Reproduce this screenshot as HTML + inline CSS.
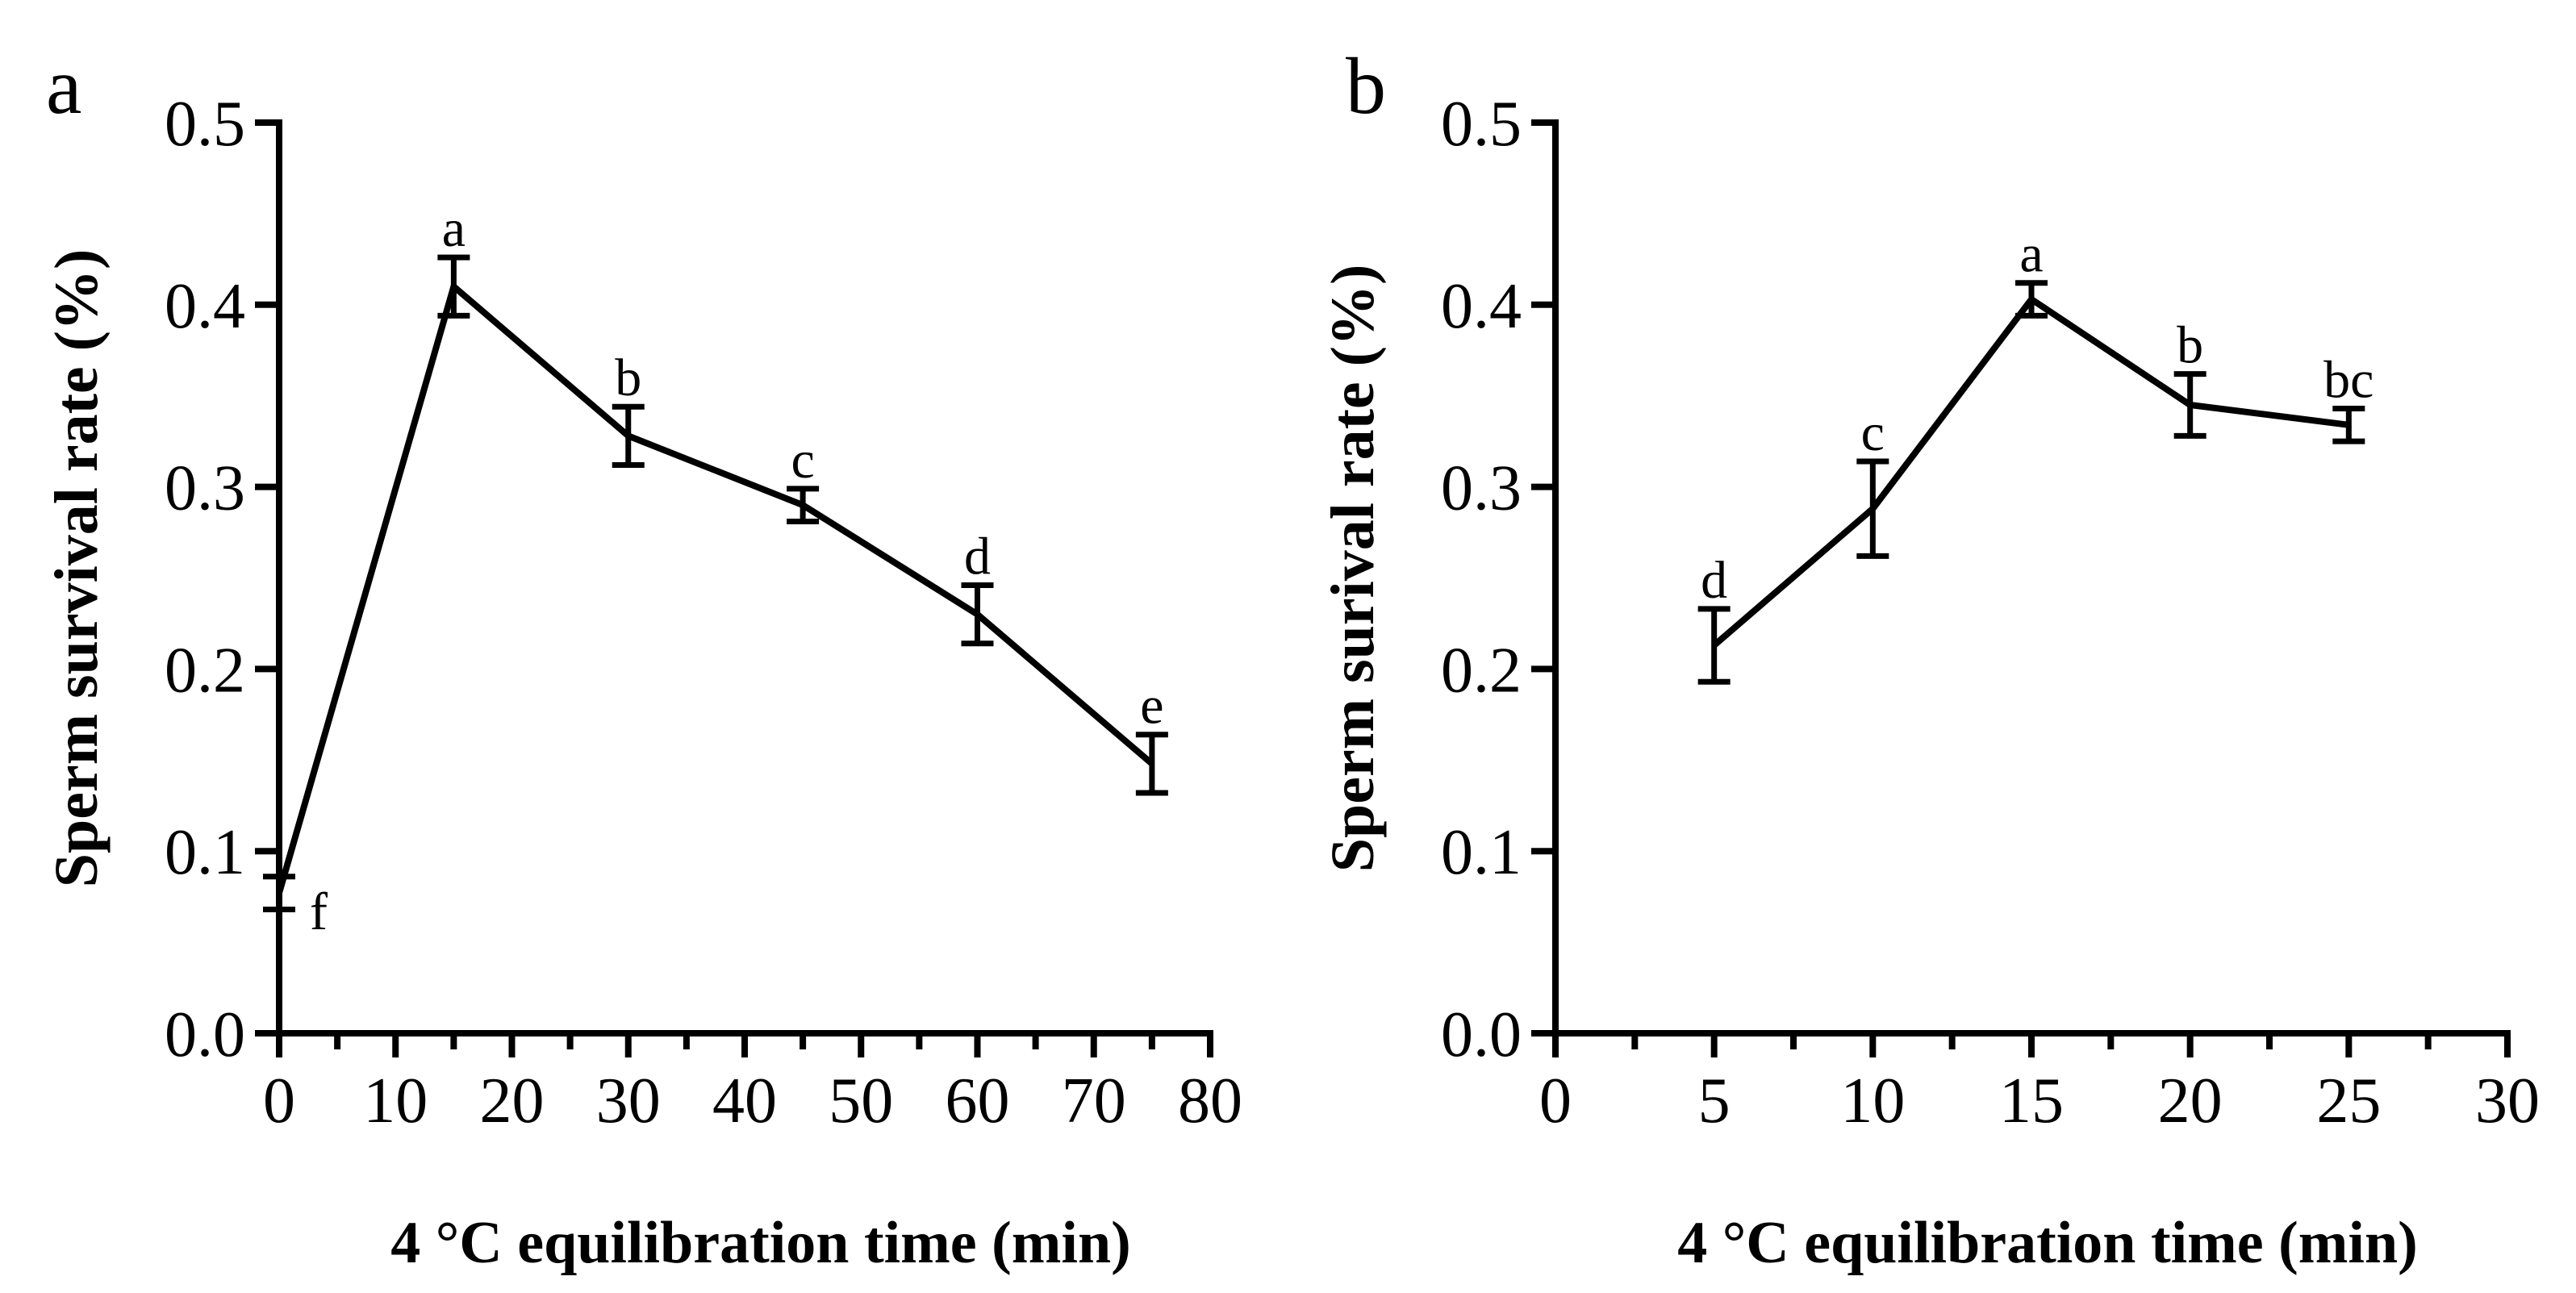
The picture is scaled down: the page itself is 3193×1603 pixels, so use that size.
<!DOCTYPE html>
<html><head><meta charset="utf-8"><style>
html,body{margin:0;padding:0;background:#fff}
svg{display:block}
text{font-family:"Liberation Serif",serif;fill:#000}
</style></head><body>
<svg id="c" width="3193" height="1603" viewBox="0 0 3193 1603" xmlns="http://www.w3.org/2000/svg"></svg>
<script>
const aTimes=[0,15,30,45,60,75];
const aMeans=[0.077,0.410,0.328,0.290,0.230,0.148];
const aErrs=[0.009,0.016,0.016,0.009,0.016,0.016];
const aLetters=["f","a","b","c","d","e"];
const aXTicks=[0,10,20,30,40,50,60,70,80];
const bTimes=[5,10,15,20,25];
const bMeans=[0.213,0.288,0.403,0.345,0.334];
const bErrs=[0.020,0.026,0.009,0.017,0.009];
const bLetters=["d","c","a","b","bc"];
const bXTicks=[0,5,10,15,20,25,30];
const yTicks=[0.0,0.1,0.2,0.3,0.4,0.5];

const svg=document.getElementById('c');
const NS='http://www.w3.org/2000/svg';
function mk(tag,attrs,parent){const e=document.createElementNS(NS,tag);for(const k in attrs)e.setAttribute(k,attrs[k]);(parent||svg).appendChild(e);return e;}

function panel(p){
  const g=mk('g',{});
  
  
  const sx=v=>p.x0+(v-p.xmin)/(p.xmax-p.xmin)*(p.x1-p.x0);
  const sy=v=>p.y0+(v-0)/(0.5)*(p.y1-p.y0);
  const pl=mk('text',{x:p.lx,y:140,'font-size':100},g);pl.textContent=p.id;
  
  const ya=mk('line',{x1:p.x0,y1:p.y1-4,x2:p.x0,y2:p.y0+4,stroke:'#000','stroke-width':8},g);
  
  const xa=mk('line',{x1:p.x0-4,y1:p.y0,x2:p.x1+4,y2:p.y0,stroke:'#000','stroke-width':8},g);
  
  yTicks.forEach(t=>{
    const y=sy(t);
    mk('line',{x1:p.x0-30,y1:y,x2:p.x0,y2:y,stroke:'#000','stroke-width':8},g);
    const tx=mk('text',{x:p.x0-42,y:y+28,'font-size':80,'text-anchor':'end'},g);
    tx.textContent=t.toFixed(1);
    
  });
  p.xt.forEach((t,i)=>{
    const x=sx(t);
    mk('line',{x1:x,y1:p.y0,x2:x,y2:p.y0+30,stroke:'#000','stroke-width':8},g);
    if(i<p.xt.length-1){const xm=sx((t+p.xt[i+1])/2);mk('line',{x1:xm,y1:p.y0,x2:xm,y2:p.y0+20,stroke:'#000','stroke-width':8},g);}
    const tx=mk('text',{x:x,y:p.y0+110,'font-size':80,'text-anchor':'middle'},g);
    tx.textContent=t;
    
  });
  const pts=p.t.map((t,i)=>sx(t)+','+sy(p.m[i])).join(' ');
  const pl2=mk('polyline',{points:pts,fill:'none',stroke:'#000','stroke-width':8,'stroke-linejoin':'miter'},g);
  
  p.t.forEach((t,i)=>{
    const x=sx(t),yt=sy(p.m[i]+p.e[i]),yb=sy(p.m[i]-p.e[i]);
    const eb=mk('path',{d:`M${x},${yt}V${yb}M${x-20},${yt}H${x+20}M${x-20},${yb}H${x+20}`,stroke:'#000','stroke-width':7,fill:'none'},g);
    
    let lx=x,ly=yt-14,anc='middle';
    if(p.id==='a'&&i===0){lx=x+38;ly=sy(p.m[i])+45;anc='start';}
    const lt=mk('text',{x:lx,y:ly,'font-size':66,'text-anchor':anc},g);
    lt.textContent=p.l[i];
    
  });
  const yt=mk('text',{x:0,y:0,'font-size':76,'font-weight':'bold','text-anchor':'middle',transform:`translate(${p.x0-226},${(p.y0+p.y1)/2-12}) rotate(-90)`},g);
  yt.textContent=p.ytitle;
  
  const xt=mk('text',{x:(p.x0+p.x1)/2+20,y:1565,'font-size':74,'font-weight':'bold','text-anchor':'middle'},g);
  xt.textContent='4 °C equilibration time (min)';
  
}
panel({id:'a',lx:57,x0:346,x1:1500,y0:1281,y1:152,xmin:0,xmax:80,xt:aXTicks,t:aTimes,m:aMeans,e:aErrs,l:aLetters,ytitle:'Sperm survival rate (%)'});
panel({id:'b',lx:1668,x0:1928,x1:3108,y0:1281,y1:152,xmin:0,xmax:30,xt:bXTicks,t:bTimes,m:bMeans,e:bErrs,l:bLetters,ytitle:'Sperm surival rate (%)'});
</script>
</body></html>
